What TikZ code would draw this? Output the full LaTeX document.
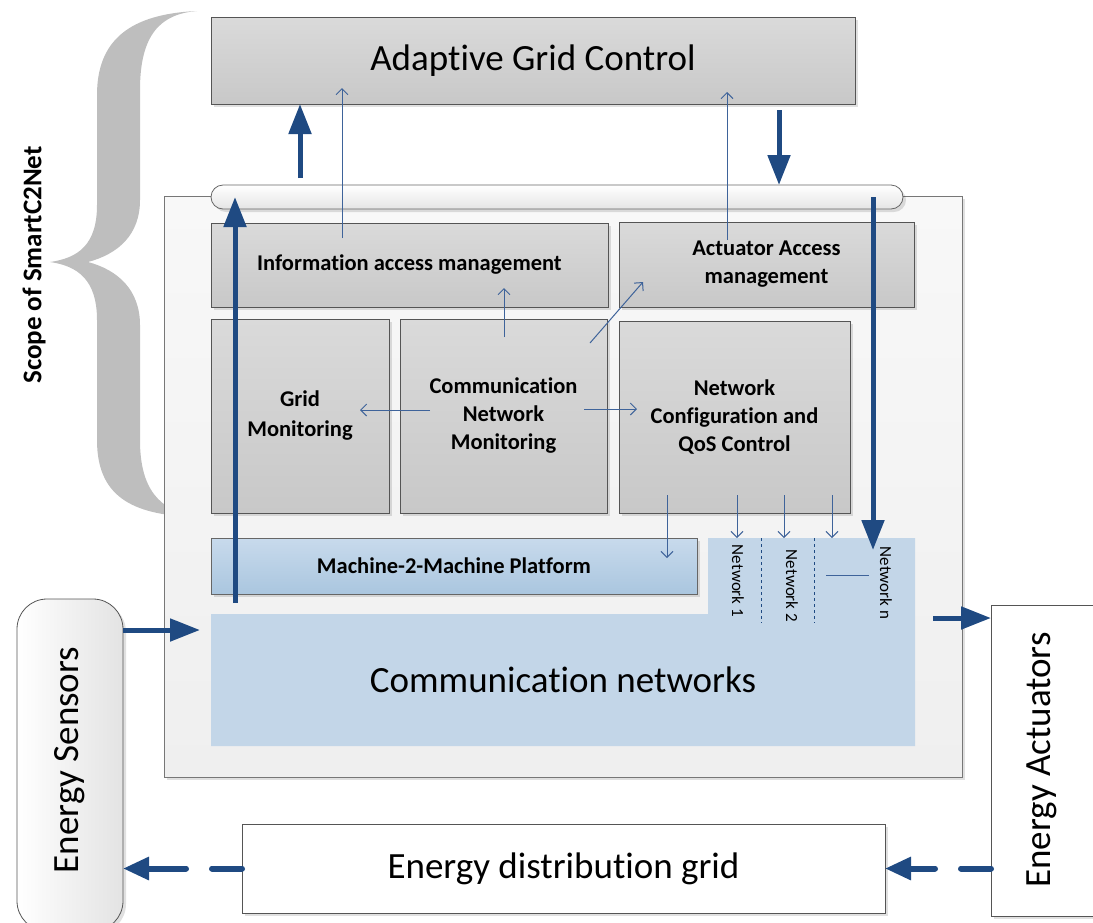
\documentclass[tikz,border=0pt]{standalone}
\usepackage{fontspec}
\setmainfont{Carlito}[Ligatures=NoCommon]
\usetikzlibrary{arrows.meta,shadows,calc}
\definecolor{navy}{HTML}{1F4A82}
\definecolor{thinblue}{HTML}{3E639A}
\definecolor{boxline}{HTML}{555555}
\definecolor{graytop}{HTML}{DADADA}
\definecolor{graybot}{HTML}{C8C8C8}
\definecolor{netfill}{HTML}{C3D6E8}
\definecolor{mtop}{HTML}{C8DAEC}
\definecolor{mbot}{HTML}{AAC6DF}
\definecolor{bracegray}{HTML}{BEBEBE}
\definecolor{frametop}{HTML}{F8F8F8}
\definecolor{framebot}{HTML}{EFEFEF}
\begin{document}
\begin{tikzpicture}[x=1pt,y=-1pt,
  every node/.style={inner sep=0pt,outer sep=0pt,align=center},
  softshadow/.style={drop shadow={shadow xshift=3pt,shadow yshift=-3pt,fill=black,opacity=0.12}},
  graybox/.style={anchor=north west,draw=boxline,line width=0.8pt,top color=graytop,bottom color=graybot,softshadow},
  bigfont/.style={font=\fontsize{37}{44}\selectfont},
  boldfont/.style={font=\bfseries\fontsize{22.5}{28}\selectfont},
  netfont/.style={font=\fontsize{17}{20}\selectfont},
  bigarrow/.style={draw=navy,line width=5pt,-{Triangle[length=30pt,width=22pt]}},
  dasharrow/.style={draw=navy,line width=6pt,line cap=round,dash pattern=on 30pt off 26pt on 300pt,-{Triangle[length=26pt,width=22pt]}},
  thinarrow/.style={draw=thinblue,line width=1pt,-{Straight Barb[length=6pt,width=12pt]}},
  thinline/.style={draw=thinblue,line width=1pt}]
\useasboundingbox (0,0) rectangle (1093,922);

% scope brace
\fill[bracegray] (197,11) .. controls (130,14) and (97,40) .. (97,95)
  -- (97,205) .. controls (97,245) and (78,258) .. (50,262)
  .. controls (78,266) and (97,280) .. (97,320)
  -- (97,440) .. controls (97,495) and (130,515) .. (195,517)
  .. controls (160,510) and (140,490) .. (140,440)
  -- (140,325) .. controls (140,290) and (118,270) .. (88,262)
  .. controls (118,254) and (140,235) .. (140,200)
  -- (140,90) .. controls (140,35) and (160,14) .. (197,11) -- cycle;
\node[rotate=90,font=\bfseries\fontsize{27}{30}\selectfont] (scope) at (34,265) {Scope of SmartC2Net};

% top controller
\node[graybox,minimum width=644pt,minimum height=87pt,bigfont] (agc) at (211,17) {Adaptive Grid Control};

% SmartC2Net frame
\node[anchor=north west,draw=boxline!80,line width=0.8pt,top color=frametop,bottom color=framebot,softshadow,minimum width=798pt,minimum height=581pt] (frame) at (164,196) {};

% bus
\node[anchor=north west,draw=boxline!90,line width=0.8pt,rounded corners=12pt,top color=white,bottom color=graytop!70,softshadow,minimum width=692pt,minimum height=24pt] (bus) at (211,185) {};

% function blocks
\node[graybox,minimum width=397pt,minimum height=84pt,boldfont] (info) at (211,223) {Information access management};
\node[graybox,minimum width=295pt,minimum height=85pt,boldfont] (act) at (619,222) {Actuator Access\\management};
\node[graybox,minimum width=178pt,minimum height=194pt,font=\bfseries\fontsize{22.5}{30}\selectfont] (gridmon) at (211,319) {Grid\\Monitoring};
\node[graybox,minimum width=207pt,minimum height=194pt,boldfont] (cnm) at (400,319) {Communication\\Network\\Monitoring};
\node[graybox,minimum width=231pt,minimum height=192pt,boldfont] (qos) at (619,321) {Network\\Configuration and\\QoS Control};

% communication networks area
\fill[netfill] (211,614) -- (708,614) -- (708,538) -- (915,538) -- (915,746) -- (211,746) -- cycle;
\node[bigfont] (comm) at (563,680) {Communication networks};
\node[anchor=north west,draw=boxline!90,line width=0.8pt,top color=mtop,bottom color=mbot,softshadow,minimum width=486pt,minimum height=56pt,boldfont] (m2m) at (211,538) {Machine-2-Machine Platform};

\draw[draw=navy,line width=1pt,dashed] (761,538) -- (761,623);
\draw[draw=navy,line width=1pt,dashed] (814,538) -- (814,623);
\draw[thinline] (826,575) -- (869,575);
\node[netfont,rotate=-90] (n1) at (738,581) {Network 1};
\node[netfont,rotate=-90] (n2) at (792,586) {Network 2};
\node[netfont,rotate=-90] (nn) at (886,583) {Network n};

% field side
\node[anchor=north west,draw=boxline,line width=0.8pt,rounded corners=30pt,left color=white,right color=framebot!95!black,softshadow,minimum width=106pt,minimum height=332pt] (sens) at (17,599) {};
\node[bigfont,rotate=90] (senstext) at (70,760) {Energy Sensors};
\node[anchor=north west,draw=boxline,line width=0.8pt,fill=white,softshadow,minimum width=104pt,minimum height=311pt] (actu) at (991,605) {};
\node[bigfont,rotate=90] (actutext) at (1042,760) {Energy Actuators};
\node[anchor=north west,draw=boxline,line width=0.8pt,fill=white,softshadow,minimum width=643pt,minimum height=89pt,bigfont] (grid) at (242,824) {Energy distribution grid};

% thin internal arrows
\coordinate (i1) at (342,238);
\draw[thinarrow] (i1) -- (342,88);
\coordinate (a1) at (727,240);
\draw[thinarrow] (a1) -- (727,92);
\coordinate (c1) at (504,337);
\coordinate (c2) at (504,288);
\draw[thinarrow] (c1) -- (c2);
\coordinate (c3) at (590,343);
\coordinate (c4) at (643,282);
\draw[thinarrow] (c3) -- (c4);
\coordinate (c5) at (430,410);
\coordinate (c6) at (360,410);
\draw[thinarrow] (c5) -- (c6);
\coordinate (c7) at (584,409);
\coordinate (c8) at (637,409);
\draw[thinarrow] (c7) -- (c8);
\foreach \xx/\yy in {667/558,737/538,784/538,832/538}
  \draw[thinarrow] (\xx,495) -- (\xx,\yy);

% thick data paths
\coordinate (u1) at (300,178);
\draw[bigarrow] (u1) -- (u1 |- agc.south);
\coordinate (d1) at (779,110);
\draw[bigarrow] (d1) -- (d1 |- bus.north);
\coordinate (u2) at (235,603);
\draw[bigarrow] (u2) -- (235,197);
\coordinate (d2) at (873,197);
\draw[bigarrow] (d2) -- (873,550);
\coordinate (s1) at (123,630);
\coordinate (s2) at (200,630);
\draw[bigarrow] (s1) -- (s2);
\coordinate (e1) at (933,618);
\draw[bigarrow] (e1) -- (e1 -| actu.west);
\draw[dasharrow] (grid.east -| actu.west) -- (grid.east);
\draw[dasharrow] (grid.west) -- (grid.west -| sens.east);
\end{tikzpicture}
\end{document}
